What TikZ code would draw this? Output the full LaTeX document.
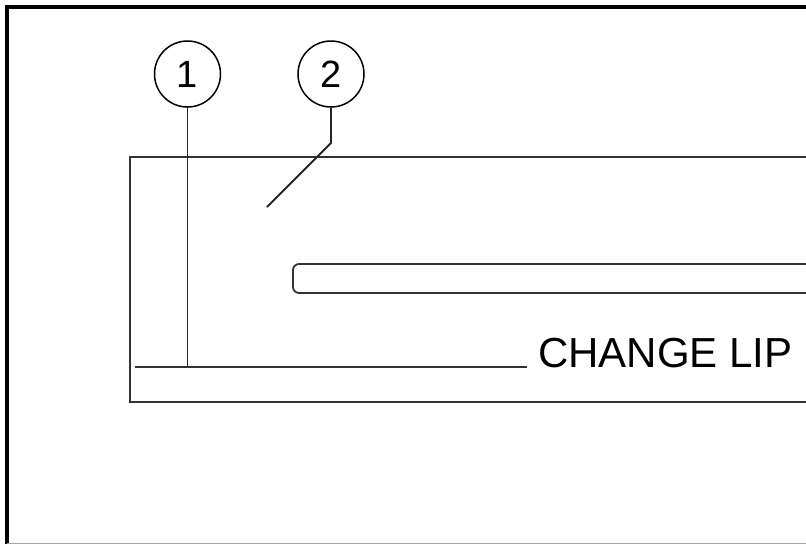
\documentclass[tikz,border=0pt]{standalone}
\usepackage{fontspec}
\setmainfont{Liberation Sans}
\begin{document}
\begin{tikzpicture}[x=1pt,y=-1pt,
  frame/.style={line width=3.5pt,black},
  part/.style={line width=1.8pt,black!80},
  leader/.style={line width=1.8pt,black!85},
  callout/.style={circle,draw,line width=1.5pt,minimum size=66pt,inner sep=0pt,font=\fontsize{38}{38}\selectfont},
  label/.style={anchor=base west,inner sep=0pt,font=\fontsize{42}{42}\selectfont}]
\useasboundingbox (0,0) rectangle (806,544);
% outer frame
\draw[frame] (7,544) -- (7,7) -- (806,7);
\draw[line width=1pt,black!35] (7,543.5) -- (806,543.5);
% part outline
\draw[part] (806,157) -- (130,157) -- (130,402) -- (806,402);
% slot
\draw[part,rounded corners=6pt] (806,264) -- (293,264) -- (293,293) -- (806,293);
% change lip line and label
\coordinate (lipL) at (135,367);
\node[label] (lip) at (538,367) {CHANGE LIP};
\coordinate (lipR) at (527,367);
\draw[part] (lipL) -- (lipR);
% callouts
\node[callout] (c1) at (187.5,74) {1};
\node[callout] (c2) at (331,74) {2};
\coordinate (c2k) at (331,143);
\coordinate (c2e) at (267,207);
\draw[leader] (c1.south) -- (c1.south |- lipL);
\draw[leader] (c2.south) -- (c2k) -- (c2e);
\end{tikzpicture}
\end{document}
